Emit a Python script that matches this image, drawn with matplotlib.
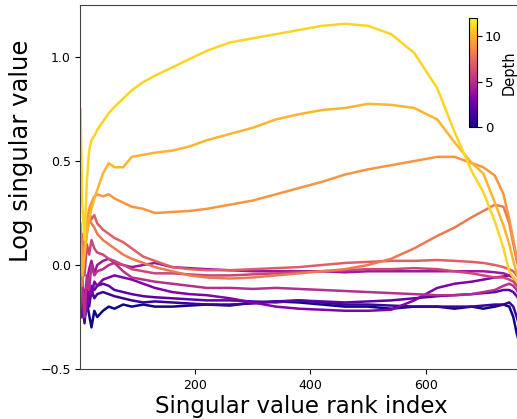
import matplotlib
matplotlib.use("Agg")
import matplotlib.pyplot as plt
import numpy as np

rank = [1, 4, 8, 12, 16, 20, 25, 30, 40, 50, 60, 75, 90, 110, 130, 160, 190, 220,
        260, 300, 340, 380, 420, 460, 500, 540, 580, 620, 650, 680, 700, 720,
        735, 745, 752, 758, 763, 768]

depths = [0, 1, 2, 3, 4, 5, 6, 7, 8, 9, 10, 11]

d0 = [-0.25, -0.20, -0.26, -0.18, -0.24, -0.30, -0.22, -0.25, -0.22, -0.20, -0.21, -0.19,
      -0.20, -0.19, -0.20, -0.20, -0.195, -0.19, -0.195, -0.18, -0.175, -0.18, -0.19, -0.20,
      -0.20, -0.21, -0.20, -0.20, -0.21, -0.20, -0.21, -0.20, -0.19, -0.20, -0.25, -0.33,
      -0.38, -0.42]
d1 = [-0.22, -0.18, -0.28, -0.15, -0.20, -0.12, -0.16, -0.14, -0.13, -0.14, -0.15, -0.16,
      -0.17, -0.18, -0.175, -0.18, -0.185, -0.19, -0.19, -0.185, -0.175, -0.17, -0.18, -0.19,
      -0.19, -0.195, -0.20, -0.20, -0.20, -0.20, -0.195, -0.19, -0.19, -0.18, -0.20, -0.25,
      -0.30, -0.35]
d2 = [-0.25, -0.15, -0.22, -0.12, -0.18, -0.10, -0.12, -0.10, -0.09, -0.10, -0.12, -0.13,
      -0.14, -0.15, -0.155, -0.16, -0.165, -0.17, -0.17, -0.175, -0.18, -0.17, -0.175, -0.18,
      -0.175, -0.17, -0.16, -0.15, -0.145, -0.14, -0.135, -0.13, -0.12, -0.12, -0.13, -0.15,
      -0.17, -0.19]
d3 = [-0.20, -0.25, -0.12, -0.22, -0.10, -0.15, -0.08, -0.10, -0.07, -0.06, -0.05, -0.06,
      -0.07, -0.09, -0.11, -0.13, -0.14, -0.145, -0.16, -0.18, -0.20, -0.21, -0.215, -0.22,
      -0.22, -0.215, -0.17, -0.11, -0.09, -0.08, -0.07, -0.06, -0.055, -0.05, -0.06, -0.09,
      -0.12, -0.15]
d4 = [-0.15, -0.05, -0.20, -0.08, -0.02, 0.02, -0.04, 0.00, 0.02, 0.03, 0.01, 0.00,
      -0.01, 0.00, 0.01, -0.01, -0.015, -0.02, -0.025, -0.03, -0.03, -0.03, -0.03, -0.035,
      -0.03, -0.03, -0.03, -0.03, -0.03, -0.03, -0.03, -0.035, -0.04, -0.05, -0.06, -0.08,
      -0.10, -0.12]
d5 = [-0.20, -0.10, -0.25, -0.05, -0.12, 0.00, -0.05, -0.03, -0.02, 0.00, 0.01, -0.03,
      -0.06, -0.07, -0.08, -0.09, -0.10, -0.11, -0.11, -0.115, -0.11, -0.115, -0.12, -0.125,
      -0.13, -0.135, -0.14, -0.145, -0.145, -0.14, -0.13, -0.12, -0.10, -0.09, -0.10, -0.12,
      -0.15, -0.17]
d6 = [-0.15, 0.05, -0.05, 0.10, 0.05, 0.12, 0.08, 0.06, 0.05, 0.03, 0.02, 0.00,
      -0.02, -0.03, -0.04, -0.04, -0.045, -0.05, -0.05, -0.045, -0.04, -0.035, -0.03, -0.025,
      -0.02, -0.02, -0.015, -0.02, -0.03, -0.04, -0.05, -0.06, -0.06, -0.07, -0.08, -0.10,
      -0.12, -0.14]
d7 = [0.00, 0.15, 0.05, 0.20, 0.25, 0.22, 0.24, 0.20, 0.17, 0.15, 0.13, 0.11,
      0.08, 0.04, 0.02, -0.01, -0.02, -0.025, -0.025, -0.02, -0.015, -0.01, 0.00, 0.01,
      0.015, 0.02, 0.02, 0.024, 0.02, 0.015, 0.01, 0.00, -0.01, -0.02, -0.03, -0.05,
      -0.07, -0.09]
d8 = [0.05, -0.10, 0.05, 0.15, 0.22, 0.20, 0.18, 0.15, 0.12, 0.10, 0.08, 0.05,
      0.03, 0.01, -0.01, -0.03, -0.05, -0.06, -0.065, -0.06, -0.05, -0.04, -0.03, -0.02,
      0.00, 0.03, 0.08, 0.14, 0.18, 0.23, 0.26, 0.29, 0.28, 0.20, 0.10, 0.02, -0.03, -0.06]
d9 = [0.20, 0.00, 0.10, 0.20, 0.27, 0.30, 0.33, 0.34, 0.33, 0.34, 0.32, 0.30,
      0.28, 0.27, 0.25, 0.255, 0.26, 0.27, 0.29, 0.31, 0.34, 0.37, 0.40, 0.435,
      0.46, 0.48, 0.50, 0.52, 0.52, 0.49, 0.47, 0.43, 0.34, 0.22, 0.12, 0.04, 0.00, -0.02]
d10 = [0.10, -0.05, 0.05, 0.15, 0.22, 0.27, 0.32, 0.36, 0.44, 0.49, 0.47, 0.47,
       0.52, 0.53, 0.54, 0.55, 0.57, 0.60, 0.63, 0.66, 0.70, 0.725, 0.745, 0.755,
       0.775, 0.77, 0.755, 0.70, 0.59, 0.49, 0.44, 0.30, 0.19, 0.10, 0.02, -0.04, -0.08, -0.10]
d11 = [0.75, 0.30, 0.12, 0.40, 0.55, 0.60, 0.62, 0.65, 0.69, 0.73, 0.76, 0.80,
       0.84, 0.88, 0.91, 0.95, 0.99, 1.03, 1.07, 1.09, 1.11, 1.13, 1.15, 1.16,
       1.15, 1.11, 1.02, 0.85, 0.64, 0.45, 0.35, 0.21, 0.08, -0.03, -0.06, -0.08, -0.10, -0.12]

curves = [d0, d1, d2, d3, d4, d5, d6, d7, d8, d9, d10, d11]

fig = plt.figure(figsize=(5.17, 4.19), dpi=100)
ax = fig.add_axes([0.1557, 0.1193, 0.855, 0.8687])

cmap = plt.get_cmap("plasma")
norm = matplotlib.colors.Normalize(vmin=0, vmax=12)
for d, vals in zip(depths, curves):
    ax.plot(rank, vals, color=cmap(norm(d)), lw=1.8)

ax.set_xlim(1, 768)
ax.set_ylim(-0.5, 1.25)
ax.set_xticks([200, 400, 600])
ax.set_yticks([-0.5, 0.0, 0.5, 1.0])
ax.tick_params(labelsize=9)
ax.set_xlabel("Singular value rank index", fontsize=16.5)
ax.xaxis.set_label_coords(0.5, -0.072)
ax.set_ylabel("Log singular value", fontsize=17.5)
ax.yaxis.set_label_coords(-0.107, 0.60)
for s in ax.spines.values():
    s.set_color("#444444")

cax = fig.add_axes([469 / 517, (419 - 127) / 419, 8 / 517, 109 / 419])
sm = matplotlib.cm.ScalarMappable(norm=norm, cmap=cmap)
cb = fig.colorbar(sm, cax=cax, ticks=[0, 5, 10])
cb.ax.tick_params(labelsize=9.5, pad=2)
cb.set_label("Depth", fontsize=10.5, labelpad=0)

fig.savefig("out.png", dpi=100)
